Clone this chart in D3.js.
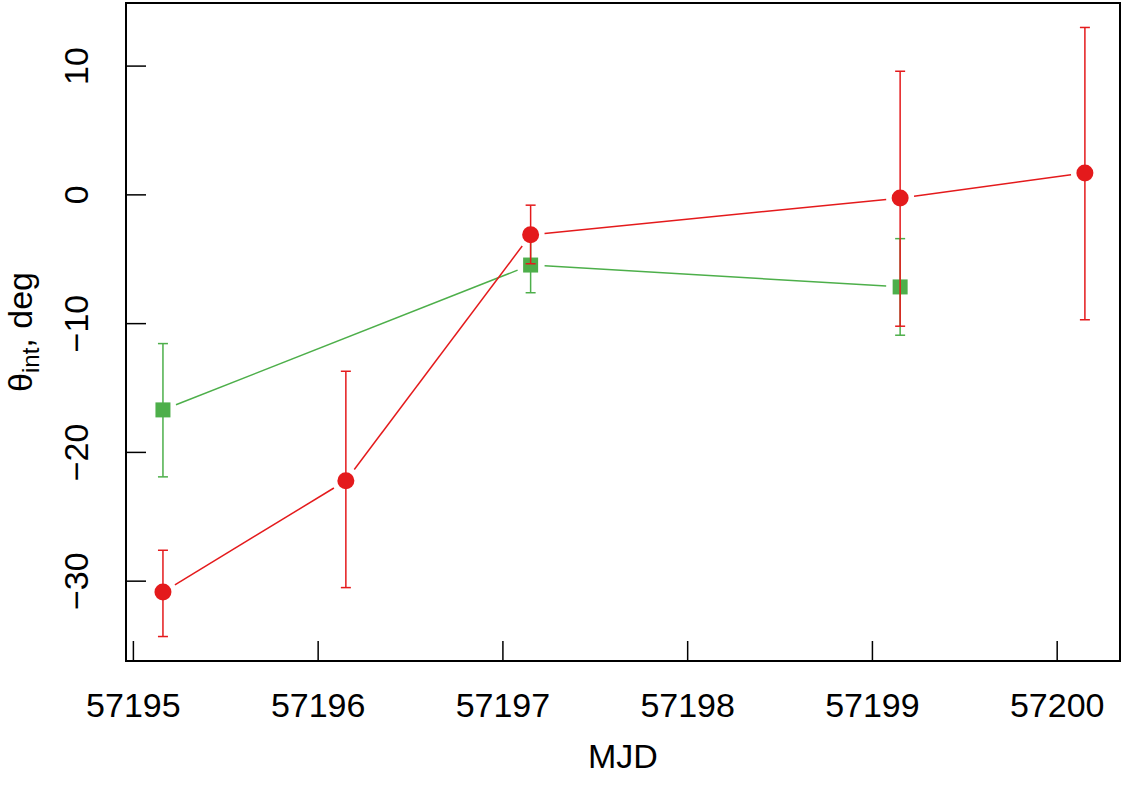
<!DOCTYPE html>
<html lang="en">
<head>
<meta charset="utf-8">
<title>theta_int vs MJD</title>
<script src="https://d3js.org/d3.v7.min.js"></script>
<style>
  html, body { margin: 0; padding: 0; background: #fff; }
  svg { display: block; }
  text { font-family: "Liberation Sans", Arial, Helvetica, sans-serif; fill: #000; }
</style>
</head>
<body>
<script>
// red series (circles)
const redMjd   = [57195.16, 57196.15, 57197.15, 57199.15, 57200.15];
const redTheta = [-30.85, -22.2, -3.1, -0.25, 1.7];
const redLow   = [-34.3, -30.5, -5.35, -10.2, -9.7];
const redHigh  = [-27.6, -13.7, -0.8, 9.6, 13.0];

// green series (squares)
const greenMjd   = [57195.16, 57197.15, 57199.15];
const greenTheta = [-16.7, -5.45, -7.15];
const greenLow   = [-21.9, -7.6, -10.9];
const greenHigh  = [-11.55, -3.3, -3.4];

const xTicks = [57195, 57196, 57197, 57198, 57199, 57200];
const yTicks = [-30, -20, -10, 0, 10];

const W = 1125, H = 788;
const box = {left: 126, right: 1120, top: 3, bottom: 661};

const x = d3.scaleLinear().domain([57194.96, 57200.34]).range([box.left, box.right]);
const y = d3.scaleLinear().domain([-36.2, 14.9]).range([box.bottom, box.top]);

const svg = d3.select("body").append("svg")
    .attr("width", W)
    .attr("height", H);

function series(mjd, theta, low, high) {
  return mjd.map((m, i) => ({m: m, t: theta[i], lo: low[i], hi: high[i]}));
}
const red = series(redMjd, redTheta, redLow, redHigh);
const green = series(greenMjd, greenTheta, greenLow, greenHigh);

// lines broken around the points, like R type="b"
function drawGapLines(data, color) {
  const gap = 14;
  for (let i = 0; i < data.length - 1; i++) {
    const x0 = x(data[i].m), y0 = y(data[i].t);
    const x1 = x(data[i + 1].m), y1 = y(data[i + 1].t);
    const len = Math.hypot(x1 - x0, y1 - y0);
    const ux = (x1 - x0) / len, uy = (y1 - y0) / len;
    svg.append("line")
      .attr("x1", x0 + ux * gap).attr("y1", y0 + uy * gap)
      .attr("x2", x1 - ux * gap).attr("y2", y1 - uy * gap)
      .attr("stroke", color)
      .attr("stroke-width", 1.5);
  }
}

function drawErrors(data, color) {
  const g = svg.append("g").attr("stroke", color).attr("stroke-width", 1.5);
  g.selectAll("line.v").data(data).enter().append("line")
    .attr("x1", d => x(d.m)).attr("x2", d => x(d.m))
    .attr("y1", d => y(d.lo)).attr("y2", d => y(d.hi));
  const capW = 5;
  g.selectAll("line.lo").data(data).enter().append("line")
    .attr("x1", d => x(d.m) - capW).attr("x2", d => x(d.m) + capW)
    .attr("y1", d => y(d.lo)).attr("y2", d => y(d.lo));
  g.selectAll("line.hi").data(data).enter().append("line")
    .attr("x1", d => x(d.m) - capW).attr("x2", d => x(d.m) + capW)
    .attr("y1", d => y(d.hi)).attr("y2", d => y(d.hi));
}

const redCol = "#E41A1C", greenCol = "#4DAF4A";

// green first, red on top
drawGapLines(green, greenCol);
drawErrors(green, greenCol);
svg.selectAll("rect.sq").data(green).enter().append("rect")
  .attr("x", d => x(d.m) - 7.5)
  .attr("y", d => y(d.t) - 7.5)
  .attr("width", 15)
  .attr("height", 15)
  .attr("fill", greenCol);

drawGapLines(red, redCol);
drawErrors(red, redCol);
svg.selectAll("circle.pt").data(red).enter().append("circle")
  .attr("cx", d => x(d.m))
  .attr("cy", d => y(d.t))
  .attr("r", 8.5)
  .attr("fill", redCol);

// box
svg.append("rect")
  .attr("x", box.left).attr("y", box.top)
  .attr("width", box.right - box.left)
  .attr("height", box.bottom - box.top)
  .attr("fill", "none")
  .attr("stroke", "#000")
  .attr("stroke-width", 2);

// x axis (ticks inward)
const xAxis = svg.append("g");
xAxis.selectAll("line").data(xTicks).enter().append("line")
  .attr("x1", d => x(d)).attr("x2", d => x(d))
  .attr("y1", box.bottom).attr("y2", box.bottom - 20)
  .attr("stroke", "#000").attr("stroke-width", 1.5);
xAxis.append("line")
  .attr("x1", x(xTicks[0])).attr("x2", x(xTicks[xTicks.length - 1]))
  .attr("y1", box.bottom).attr("y2", box.bottom)
  .attr("stroke", "#000").attr("stroke-width", 1.5);
xAxis.selectAll("text").data(xTicks).enter().append("text")
  .attr("x", d => x(d))
  .attr("y", 717)
  .attr("text-anchor", "middle")
  .attr("font-size", 34)
  .text(d => d);

// y axis (ticks inward, labels rotated)
const yAxis = svg.append("g");
yAxis.selectAll("line").data(yTicks).enter().append("line")
  .attr("x1", box.left).attr("x2", box.left + 20)
  .attr("y1", d => y(d)).attr("y2", d => y(d))
  .attr("stroke", "#000").attr("stroke-width", 1.5);
yAxis.selectAll("text").data(yTicks).enter().append("text")
  .attr("transform", d => "translate(88," + y(d) + ") rotate(-90)")
  .attr("text-anchor", "middle")
  .attr("font-size", 34)
  .text(d => d < 0 ? "\u2212" + Math.abs(d) : d);

// axis titles
svg.append("text")
  .attr("x", (box.left + box.right) / 2)
  .attr("y", 768)
  .attr("text-anchor", "middle")
  .attr("font-size", 34)
  .text("MJD");

const yl = svg.append("text")
  .attr("transform", "translate(32," + (box.top + box.bottom) / 2 + ") rotate(-90)")
  .attr("text-anchor", "middle")
  .attr("font-size", 34);
yl.append("tspan").text("\u03b8");
yl.append("tspan").attr("font-size", 24).attr("dy", 7).text("int");
yl.append("tspan").attr("dy", -7).text(", deg");
</script>
</body>
</html>
